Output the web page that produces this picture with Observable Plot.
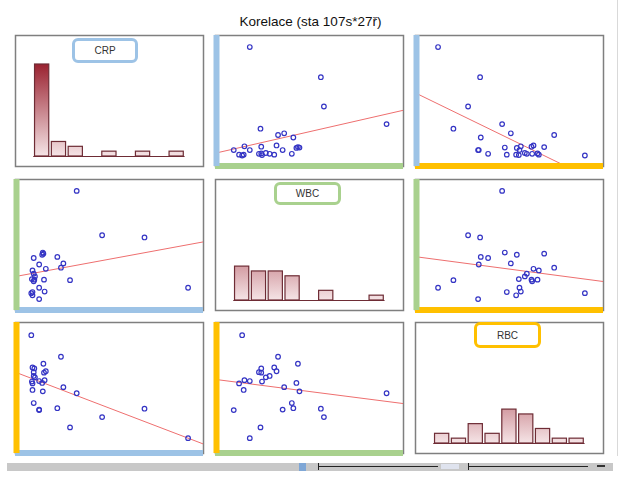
<!DOCTYPE html>
<html><head><meta charset="utf-8">
<script src="https://cdn.jsdelivr.net/npm/d3@7"></script>
<script src="https://cdn.jsdelivr.net/npm/@observablehq/plot@0.6"></script>
<style>
body{margin:0;background:#fff;font-family:"Liberation Sans",Arial,sans-serif;}
#wrap{position:relative;width:621px;height:479px;overflow:hidden;background:#fff;}
.panel{position:absolute;}
.panel svg{display:block;background:transparent;}
.lbl{position:absolute;box-sizing:border-box;background:#fff;border-radius:6px;font-size:10px;color:#333;display:flex;align-items:center;justify-content:center;border-style:solid;border-width:3px;}
#title{position:absolute;left:0;width:621px;top:15px;text-align:center;font-size:13.5px;line-height:1;color:#111;}
.abs{position:absolute;}
</style></head><body>
<div id="wrap"><div id="title">Korelace (sta 107s*27ř)</div></div>
<script>
// ---- data (27 patients) ----
const variables = ["CRP", "WBC", "RBC"];
const crp = [76,118,188,20,19,21,44,5,14,54,25,3,50,5,7,2,22,5,6,65,260,14,23,3,3,1,14];
const wbc = [23.5,15.3,14.9,12.1,11.7,11.9,11.3,11.1,9.9,10.1,9.1,8.8,9.3,8.2,7.7,7.2,7.1,6.8,7.1,7.0,5.6,5.6,4.9,4.8,4.2,4.6,3.5];
const rbc = [3.86,3.35,3.53,3.90,4.08,4.49,3.54,3.65,3.51,3.99,4.33,4.41,4.64,4.23,4.20,4.11,4.30,4.31,4.39,3.13,2.90,4.12,4.14,3.93,4.07,5.10,3.50];
const binCount = 9;

// ---- styles / layout ----
const series = [crp, wbc, rbc];
const varColors = ["#9dc3e6", "#a9d18e", "#ffc000"];
const padX = [[0.084,0.918],[0.097,0.910],[0.120,0.901]];
const padY = [[0.084,0.912],[0.087,0.913],[0.117,0.903]];
const colX = [14.5, 214.5, 415], rowY = [35, 178.5, 322];
const PW = 188, PH = 131, M = 6;
const wrap = document.getElementById("wrap");

function dom(vals, f) {
  const [mn, mx] = d3.extent(vals);
  const span = (mx - mn) / (f[1] - f[0]);
  const lo = mn - f[0] * span;
  return [lo, lo + span];
}

function place(el, i, j) {
  const d = document.createElement("div");
  d.className = "panel";
  d.style.left = (colX[j] - M) + "px";
  d.style.top = (rowY[i] - M) + "px";
  d.appendChild(el);
  wrap.appendChild(d);
}

function scatter(i, j) {
  const xs = series[j], ys = series[i];
  const pts = xs.map((x, k) => ({x, y: ys[k]}));
  const xd = dom(xs, padX[j]), yd = dom(ys, padY[i]);
  const mx = d3.mean(xs), my = d3.mean(ys);
  const b = d3.sum(xs, (x, k) => (x - mx) * (ys[k] - my)) / d3.sum(xs, x => (x - mx) ** 2);
  const a = my - b * mx;
  const fit = xd.map(x => ({x, y: a + b * x}));
  return Plot.plot({
    width: PW + 2 * M, height: PH + 2 * M, margin: M,
    x: {domain: xd, axis: null}, y: {domain: yd, axis: null},
    marks: [
      Plot.frame({stroke: "#7f7f7f", strokeWidth: 1.5}),
      Plot.line(fit, {x: "x", y: "y", stroke: "#ee6f6f", strokeWidth: 1, clip: true}),
      Plot.dot(pts, {x: "x", y: "y", r: 2.3, stroke: "#3434c4", strokeWidth: 1.2, fill: "none"}),
      Plot.ruleY([yd[0]], {stroke: varColors[j], strokeWidth: 6, dy: -0.5}),
      Plot.ruleX([xd[0]], {stroke: varColors[i], strokeWidth: 6, dx: 1})
    ]
  });
}

const allCounts = series.map(vals => {
  const [mn, mx] = d3.extent(vals);
  const c = d3.range(binCount).map(() => 0);
  vals.forEach(v => c[Math.min(binCount - 1, Math.floor((v - mn) / (mx - mn) * binCount))]++);
  return c;
});
const maxCount = d3.max(allCounts.flat());

function hist(i) {
  const counts = allCounts[i];
  const bins = counts.map((c, k) => ({k, c})).filter(d => d.c > 0);
  const f = [0.097, 0.902];
  const span = binCount / (f[1] - f[0]);
  const xlo = -f[0] * span;
  const unit = 92 / maxCount;
  const ylo = -10 / unit;
  const id = "grad" + i;
  const svg = Plot.plot({
    width: PW + 2 * M, height: PH + 2 * M, margin: M,
    x: {domain: [xlo, xlo + span], axis: null},
    y: {domain: [ylo, ylo + PH / unit], axis: null},
    marks: [
      Plot.frame({stroke: "#7f7f7f", strokeWidth: 1.5}),
      Plot.ruleY([0], {x1: 0, x2: binCount, stroke: "#6e2c35", strokeWidth: 1.2}),
      Plot.rectY(bins, {x1: "k", x2: d => d.k + 1, y1: 0, y2: "c", insetLeft: 1.3, insetRight: 1.3,
        fill: `url(#${id})`, stroke: "#6e2c35", strokeWidth: 1.2})
    ]
  });
  const ys = svg.scale("y");
  const ns = "http://www.w3.org/2000/svg";
  const defs = document.createElementNS(ns, "defs");
  const g = document.createElementNS(ns, "linearGradient");
  g.setAttribute("id", id);
  g.setAttribute("gradientUnits", "userSpaceOnUse");
  g.setAttribute("x1", 0); g.setAttribute("x2", 0);
  g.setAttribute("y1", ys.apply(maxCount)); g.setAttribute("y2", ys.apply(0));
  [["0", "#9a2230"], ["1", "#f5e4e6"]].forEach(([o, c]) => {
    const s = document.createElementNS(ns, "stop");
    s.setAttribute("offset", o); s.setAttribute("stop-color", c);
    g.appendChild(s);
  });
  defs.appendChild(g);
  svg.insertBefore(defs, svg.firstChild);
  return svg;
}

for (let i = 0; i < 3; i++) for (let j = 0; j < 3; j++) {
  place(i === j ? hist(i) : scatter(i, j), i, j);
}

// variable name boxes on the diagonal
const lblBox = [[72, 38, 66, 25], [274, 182, 67, 23], [474, 322, 67, 26]];
variables.forEach((name, i) => {
  const d = document.createElement("div");
  d.className = "lbl";
  const [l, t, w, h] = lblBox[i];
  Object.assign(d.style, {left: l + "px", top: t + "px", width: w + "px", height: h + "px", borderColor: varColors[i]});
  d.textContent = name;
  wrap.appendChild(d);
});

// window chrome at the bottom / right edge
function box(l, t, w, h, bg) {
  const d = document.createElement("div");
  d.className = "abs";
  Object.assign(d.style, {left: l + "px", top: t + "px", width: w + "px", height: h + "px", background: bg});
  wrap.appendChild(d);
}
box(617, 0, 1, 456, "#d9d9d9");
box(7, 463, 606, 8, "#c8c8c8");
box(299, 463, 7, 8, "#7fa7d6");
box(318, 466, 120, 1, "#222");
box(318, 463, 1, 7, "#222");
box(441, 464, 18, 5, "#dfe3ee");
box(468, 466, 120, 1, "#222");
box(468, 463, 1, 7, "#222");
box(597, 465, 8, 2, "#333");
</script>
</body></html>
